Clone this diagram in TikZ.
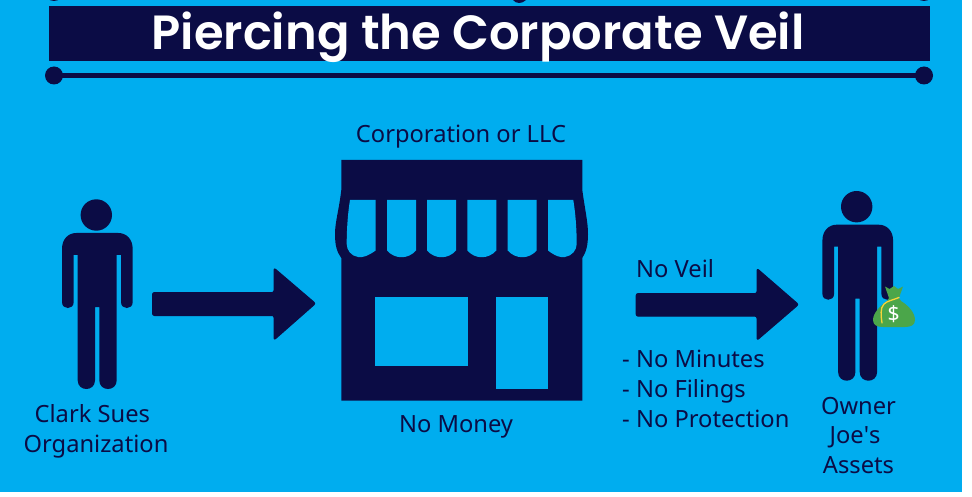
\documentclass[tikz,border=0pt]{standalone}
\usepackage{fontspec}
\setmainfont{Noto Sans}
\newfontfamily\titlefont{Poppins SemiBold}
\definecolor{navy}{HTML}{0B0C45}
\definecolor{sky}{HTML}{00ADEF}
\definecolor{baggreen}{HTML}{4BA64A}
\definecolor{rope}{HTML}{F7D43A}
\tikzset{
  x=1pt,y=-1pt,
  label/.style={anchor=base,inner sep=0pt,text=navy,font=\fontsize{23.7}{28}\selectfont},
  solid navy/.style={fill=navy,draw=none},
  blockarrow/.style={fill=navy,draw=navy,line width=1pt,rounded corners=2pt,line join=round},
  cutout/.style={fill=sky,draw=none},
  person/.pic={
    \fill[navy] (0,0) circle[radius=15.7pt];
    \fill[navy] (-34.3,34) .. controls (-34.3,24) and (-28,18) .. (-20,18) -- (22,18)
      .. controls (30,18) and (36.4,24) .. (36.4,34) -- (36.4,87.2)
      .. controls (36.4,95) and (24.7,95) .. (24.7,87.2) -- (24.7,40) -- (20.4,40) -- (20.4,165.3)
      .. controls (20.4,176.9) and (3,176.9) .. (3,165.3) -- (3,92) -- (-1.3,92) -- (-1.3,165.3)
      .. controls (-1.3,176.9) and (-18.6,176.9) .. (-18.6,165.3) -- (-18.6,40) -- (-22.6,40) -- (-22.6,87.2)
      .. controls (-22.6,95) and (-34.3,95) .. (-34.3,87.2) -- cycle;
  }
}
\begin{document}
\begin{tikzpicture}
\useasboundingbox (0,0) rectangle (972,497);
\fill[white] (0,0) rectangle (972,497);
\fill[sky] (0,0) rectangle (962,492);
% remnants of the cropped row above
\begin{scope}
\clip (0,0) rectangle (962,492);
\fill[navy] (54,-8.5) circle[radius=9.5pt];
\fill[navy] (924,-8.5) circle[radius=9.5pt];
\fill[navy] (513,0) .. controls (516,4) and (522,4) .. (526,0) -- cycle;
\end{scope}
% title
\fill[navy] (49,6) rectangle (930,61);
\node[anchor=base,inner sep=0pt,text=white,font=\titlefont\fontsize{48}{52}\selectfont] (title) at (478,50) {Piercing the Corporate Veil};
\coordinate (ruleL) at (54,75.5);
\coordinate (ruleR) at (924,75.5);
\draw[navy,line width=5pt] (ruleL) -- (ruleR);
\fill[navy] (ruleL) circle[radius=9pt];
\fill[navy] (ruleR) circle[radius=9pt];
% people
\pic at (96.3,215) {person};
\pic at (856.7,206.7) {person};
% shop
\fill[navy] (341.3,160) -- (582.3,160) -- (582.3,190)
  .. controls (585,210) and (588,222) .. (588,234) .. controls (588,246) and (586,252) .. (582.3,258)
  -- (582.3,400.7) -- (341.3,400.7) -- (341.3,258)
  .. controls (337,252) and (335,246) .. (335,234) .. controls (335,222) and (339,210) .. (341.3,190) -- cycle;
\fill[cutout] (350,200) -- (375.7,200) -- (375.7,250.5) .. controls (368,256) and (362,258) .. (358,257)
  .. controls (351,256) and (346.7,250) .. (346.7,244) .. controls (346.7,228) and (348,212) .. (350,200) -- cycle;
\foreach \a/\b in {387/416,427/456,467.3/496.3,507.7/536.7}{
  \fill[cutout] (\a,200) -- (\b,200) -- (\b,250.5) .. controls ({\b-8},259.5) and ({\a+8},259.5) .. (\a,250.5) -- cycle;
}
\fill[cutout] (548,200) -- (573.3,200) .. controls (575.3,212) and (576.7,228) .. (576.7,244)
  .. controls (576.7,250) and (572,256) .. (565,257) .. controls (561,258) and (555,256) .. (548,250.5) -- cycle;
\fill[cutout] (375,297.3) rectangle (467.7,366.3);
\fill[cutout] (496,297.3) rectangle (548.3,389.3);
% arrows
\draw[blockarrow] (152.5,292.5) -- (274,292.5) -- (274,268) -- (315.5,303.5) -- (274,340) -- (274,315.5) -- (152.5,315.5) -- cycle;
\draw[blockarrow] (636.2,293.5) -- (757,293.5) -- (757,268.5) -- (798.5,304.5) -- (757,340.2) -- (757,316.2) -- (636.2,316.2) -- cycle;
% money bag
\fill[baggreen] (885,286.5) -- (889.5,289) -- (894,286) -- (898,289) -- (903,286.5) -- (899,298) -- (901,301)
  .. controls (909,306) and (915,313) .. (915,320) .. controls (915,325) and (911,327) .. (905,327)
  -- (883,327) .. controls (877,327) and (873,325) .. (873,320) .. controls (873,313) and (880,306) .. (887,301) -- (889,298) -- cycle;
\draw[rope,line width=1.3pt,line cap=round] (899,297.5) .. controls (893,300) and (887,301) .. (884,304) .. controls (880,308) and (881,316) .. (882,323);
\node[inner sep=0pt,text=white,font=\bfseries\fontsize{21}{23}\selectfont] (dollar) at (893.7,314) {\$};
% labels
\node[label] (corp) at (461,143) {Corporation or LLC};
\node[label] (money) at (456,432) {No Money};
\node[label] (clark) at (92.3,422) {Clark Sues};
\node[label] (org) at (96,452) {Organization};
\node[label,anchor=base west] (veil) at (636,277) {No Veil};
\node[label,anchor=base west] (minutes) at (622,367) {- No Minutes};
\node[label,anchor=base west] (filings) at (622,397) {- No Filings};
\node[label,anchor=base west] (protection) at (622,427) {- No Protection};
\node[label] (owner) at (858.5,414) {Owner};
\node[label] (joes) at (855,443) {Joe\textquotesingle s};
\node[label] (assets) at (858.5,473) {Assets};
\end{tikzpicture}
\end{document}
